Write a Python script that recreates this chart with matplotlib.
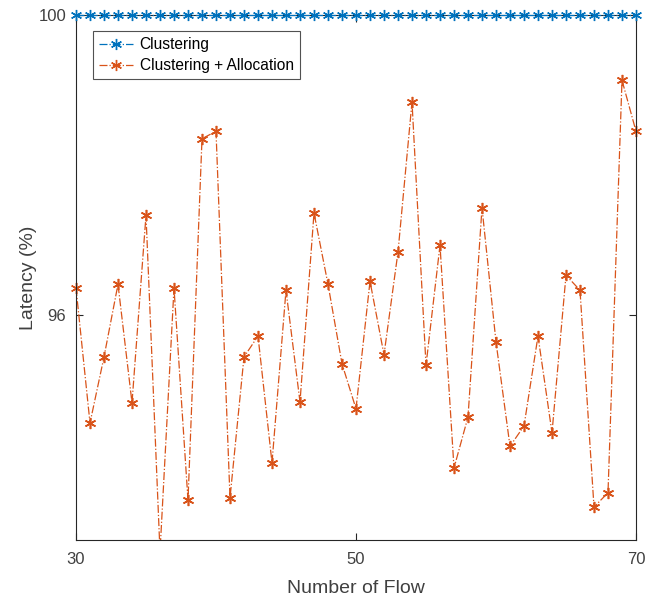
import numpy as np
import matplotlib
matplotlib.use("Agg")
import matplotlib.pyplot as plt

plt.rcParams['font.family'] = ['Liberation Sans', 'DejaVu Sans']

flows = list(range(30, 71))
clustering = [100.0] * len(flows)
clustering_alloc = [96.36, 94.56, 95.44, 96.41, 94.83, 97.33, 92.84, 96.36, 93.53, 98.35,
                    98.45, 93.56, 95.44, 95.72, 94.03, 96.33, 94.84, 97.36, 96.41, 95.35,
                    94.75, 96.45, 95.47, 96.84, 98.84, 95.33, 96.93, 93.96, 94.64, 97.43,
                    95.64, 94.25, 94.52, 95.72, 94.43, 96.53, 96.33, 93.44, 93.63, 99.13,
                    98.45]
xticks = [30, 50, 70]
yticks = [96, 100]
ylim = (93, 100)

blue = '#0072BD'
orange = '#D95319'
axcol = '#262626'

fig = plt.figure(figsize=(6.56, 5.99), dpi=100)
ax = fig.add_axes([76/656, 1 - 540/599, 560/656, 525/599])

mk = (6, 2, 0)
ax.plot(flows, clustering, linestyle='-.', marker=mk, color=blue, lw=0.9,
        markersize=8, mew=1.0, label='Clustering', clip_on=False, zorder=3)
ax.plot(flows, clustering_alloc, linestyle='-.', marker=mk, color=orange, lw=0.9,
        markersize=8, mew=1.0, label='Clustering + Allocation', clip_on=True, zorder=2)
ca = np.ma.masked_less(np.array(clustering_alloc), ylim[0])
ax.plot(flows, ca, linestyle='none', marker=mk, color=orange, markersize=8, mew=1.0,
        clip_on=False, zorder=2)

ax.set_xlim(30, 70)
ax.set_ylim(*ylim)
ax.set_xticks(xticks)
ax.set_yticks(yticks)
ax.tick_params(direction='in', length=5, width=0.8, colors=axcol, labelsize=12,
               top=True, right=True, labelcolor='#404040', pad=9)
ax.tick_params(axis='y', pad=7)
for s in ax.spines.values():
    s.set_color(axcol)
    s.set_linewidth(0.8)

ax.set_xlabel('Number of Flow', fontsize=14, color='#404040', labelpad=9)
ax.set_ylabel('Latency (%)', fontsize=14, color='#404040', labelpad=1)

leg = ax.legend(loc='upper left', bbox_to_anchor=(17/560, 1 - 16/525), fontsize=11.2,
                frameon=True, fancybox=False, edgecolor='#262626', borderpad=0.4,
                handlelength=2.2, handletextpad=0.4, labelspacing=0.38, borderaxespad=0)
leg.get_frame().set_linewidth(0.8)

fig.savefig('out.png', dpi=100)
